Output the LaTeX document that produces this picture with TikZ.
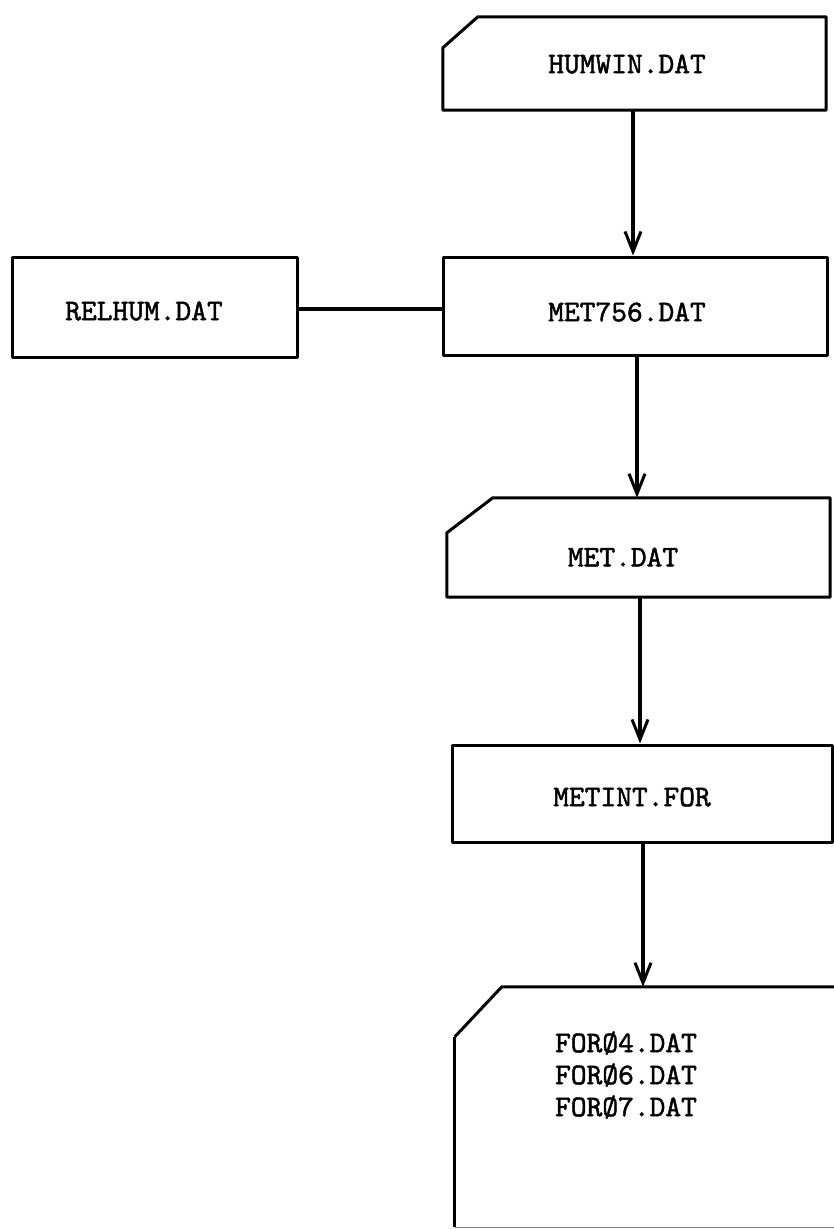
\documentclass[tikz,border=0pt]{standalone}
\usepackage{fontspec}
\usetikzlibrary{arrows.meta}
\newfontfamily\twfont[FakeBold=1.6]{lmmono10-regular.otf}
\tikzset{
  boxline/.style={line width=3pt, line join=round},
  boxnode/.style={boxline, draw, rectangle, inner sep=0pt},
  ghost/.style={rectangle, draw=none, inner sep=0pt},
  lbl/.style={font=\fontsize{30}{32}\selectfont\twfont, inner sep=0pt, align=center},
  conn/.style={line width=4pt},
  arr/.style={line width=3.2pt, -{Straight Barb[length=20pt,width=16pt,line width=3pt]}},
}
\begin{document}
\begin{tikzpicture}[x=1pt,y=-1pt]
\useasboundingbox (0,0) rectangle (833,1229);
% boxes
\node[ghost, minimum width=383pt, minimum height=93pt] (hum) at (634.5,63.5) {};
\node[boxnode, minimum width=285pt, minimum height=100pt] (rel) at (154.5,307) {};
\node[boxnode, minimum width=384pt, minimum height=98pt] (m756) at (635,306) {};
\node[ghost, minimum width=383pt, minimum height=99pt] (met) at (638.5,547.5) {};
\node[boxnode, minimum width=380pt, minimum height=97pt] (mint) at (642,793.5) {};
\node[ghost, minimum width=379pt, minimum height=240pt] (for) at (644.5,1107) {};
% cut-corner outlines
\draw[boxline] ([yshift=-31pt]hum.north west) -- ([xshift=35pt]hum.north west) -- (hum.north east) -- (hum.south east) -- (hum.south west) -- cycle;
\draw[boxline] ([yshift=-35pt]met.north west) -- ([xshift=46pt]met.north west) -- (met.north east) -- (met.south east) -- (met.south west) -- cycle;
\draw[boxline] ([yshift=-50pt]for.north west) -- ([xshift=47pt]for.north west) -- ([xshift=20pt]for.north east);
\draw[boxline] ([yshift=-50pt]for.north west) -- (for.south west);
\draw[line width=1.4pt, black!50] (for.south west) -- ([xshift=20pt]for.south east);
% texts
\node[lbl] (thum) at (627,64) {HUMWIN.DAT};
\node[lbl] (trel) at (144,311) {RELHUM.DAT};
\node[lbl] (tm756) at (627,312) {MET756.DAT};
\node[lbl] (tmet) at (623,557) {MET.DAT};
\node[lbl] (tmint) at (632,797) {METINT.FOR};
\node[lbl] (tfor) at (626,1075) {FORØ4.DAT\\FORØ6.DAT\\FORØ7.DAT};
% connectors
\draw[arr] ([xshift=-1.5pt]hum.south) -- ([xshift=-1.5pt]hum.south |- m756.north);
\draw[conn] (rel.east |- 0,309) -- (m756.west |- 0,309);
\draw[arr] ([xshift=2pt]m756.south) -- ([xshift=2pt]m756.south |- met.north);
\draw[arr] ([xshift=1.5pt]met.south) -- ([xshift=1.5pt]met.south |- mint.north);
\draw[arr] ([xshift=1pt]mint.south) -- ([xshift=1pt]mint.south |- for.north);
\end{tikzpicture}
\end{document}
